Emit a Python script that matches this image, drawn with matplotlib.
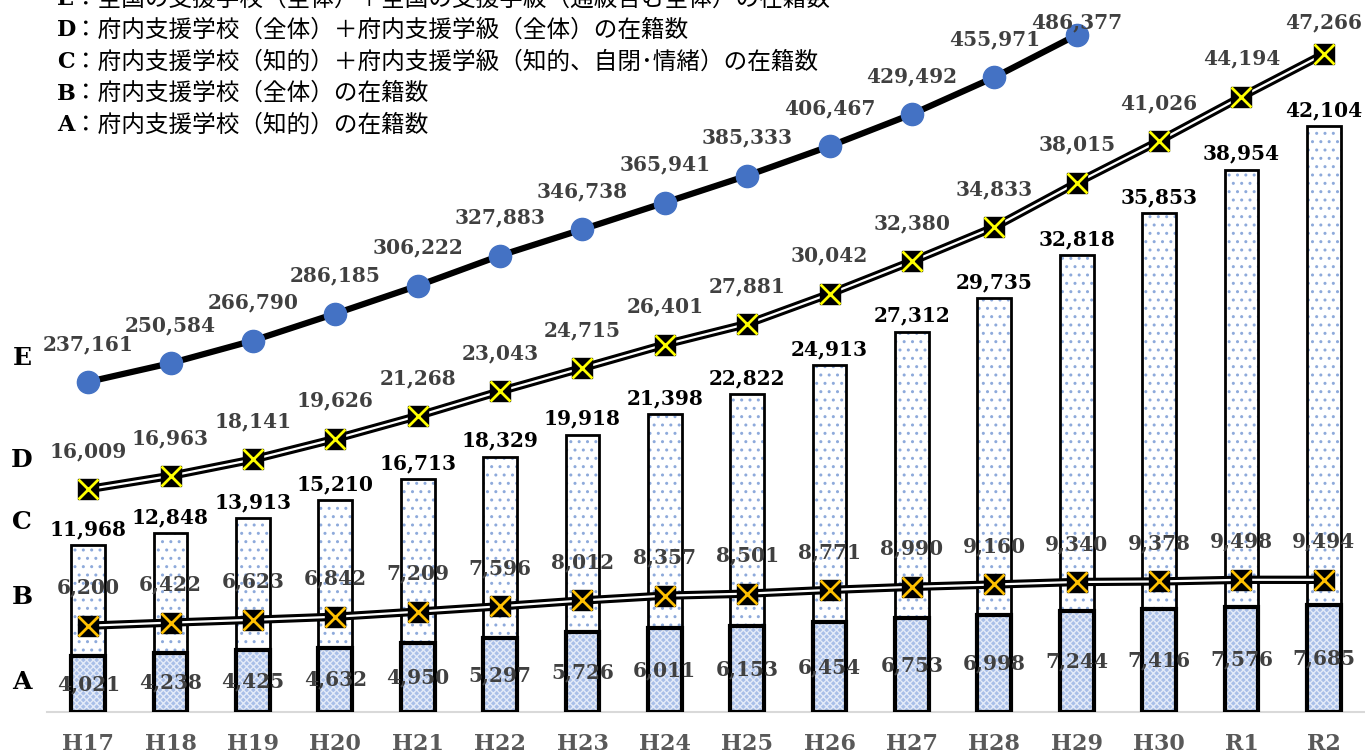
import matplotlib.pyplot as plt
import numpy as np

plt.rcParams['hatch.linewidth'] = 1.0

years = ['H17', 'H18', 'H19', 'H20', 'H21', 'H22', 'H23', 'H24',
         'H25', 'H26', 'H27', 'H28', 'H29', 'H30', 'R1', 'R2']
a_vals = [4021, 4238, 4425, 4632, 4950, 5297, 5726, 6011,
          6153, 6454, 6753, 6998, 7244, 7416, 7576, 7685]
b_vals = [6200, 6422, 6623, 6842, 7209, 7596, 8012, 8357,
          8501, 8771, 8990, 9160, 9340, 9378, 9498, 9494]
c_vals = [11968, 12848, 13913, 15210, 16713, 18329, 19918, 21398,
          22822, 24913, 27312, 29735, 32818, 35853, 38954, 42104]
d_vals = [16009, 16963, 18141, 19626, 21268, 23043, 24715, 26401,
          27881, 30042, 32380, 34833, 38015, 41026, 44194, 47266]
e_vals = [237161, 250584, 266790, 286185, 306222, 327883, 346738,
          365941, 385333, 406467, 429492, 455971, 486377]

legend_lines = [
    ('E', '：全国の支援学校（全体）＋全国の支援学級（通級含む全体）の在籍数'),
    ('D', '：府内支援学校（全体）＋府内支援学級（全体）の在籍数'),
    ('C', '：府内支援学校（知的）＋府内支援学級（知的、自閉･情緒）の在籍数'),
    ('B', '：府内支援学校（全体）の在籍数'),
    ('A', '：府内支援学校（知的）の在籍数'),
]

serif = 'DejaVu Serif'
cjk = ['Noto Sans CJK JP', 'DejaVu Sans']
gray = '#404040'

W, H = 1365, 756
fig = plt.figure(figsize=(W / 100, H / 100), dpi=100)
ax_h = 712
ax = fig.add_axes([47 / W, (H - 712) / H, 1318 / W, ax_h / H])
ymax = 51150
ax.set_xlim(-0.5, 15.5)
ax.set_ylim(0, ymax)
x = np.arange(len(years))
bw = 0.41

# C bars: white with light blue dots
ax.bar(x, c_vals, bw, facecolor='white', edgecolor='#8eaadb', hatch='..', lw=0, zorder=2)
ax.bar(x, c_vals, bw, facecolor='none', edgecolor='black', lw=2, zorder=3)
# A bars: fine blue check pattern
ax.bar(x, a_vals, bw, facecolor='#a9bfe8', edgecolor='#e4ebf8', hatch='xxxxx', lw=0, zorder=4)
ax.bar(x, a_vals, bw, facecolor='none', edgecolor='black', lw=3, zorder=5)

# B and D double lines
for vals, xcol in [(b_vals, '#ffc000'), (d_vals, '#ffff00')]:
    ax.plot(x, vals, color='black', lw=6, zorder=6, solid_capstyle='butt')
    ax.plot(x, vals, color='white', lw=1.6, zorder=7)
    ax.plot(x, vals, 's', color='black', ms=15, zorder=8)
    ax.plot(x, vals, 'x', color=xcol, ms=14, mew=2, zorder=9)

ax.spines[['top', 'right', 'left']].set_visible(False)
ax.spines['bottom'].set_color('#d9d9d9')
ax.spines['bottom'].set_linewidth(1.5)
ax.set_yticks([])
ax.set_xticks(x)
ax.set_xticklabels(years, fontfamily=serif, fontweight='bold', fontsize=16, color='#595959')
ax.tick_params(axis='x', length=0, pad=15)

ax2 = ax.twinx()
ax2.set_ylim(0, ymax * 10)
ax2.set_yticks([])
for s in ax2.spines.values():
    s.set_visible(False)
xe = x[:len(e_vals)]
ax2.plot(xe, e_vals, color='black', lw=4.5, zorder=6)
ax2.plot(xe, e_vals, 'o', color='#4472c4', ms=16, zorder=7)


def label_offset(v, top):
    # pixels above the point, kept inside the top of the chart
    from_top = (top - v) / top * ax_h
    return min(38, from_top - 22)


lab = dict(fontfamily=serif, fontweight='bold', fontsize=14.5, ha='center', va='center',
           textcoords='offset pixels', zorder=20)
for i, v in enumerate(e_vals):
    ax2.annotate(f'{v:,}', (x[i], v), xytext=(0, label_offset(v, ymax * 10)), color=gray, **lab)
for i, v in enumerate(d_vals):
    ax.annotate(f'{v:,}', (x[i], v), xytext=(0, label_offset(v, ymax)), color=gray, **lab)
for i, v in enumerate(b_vals):
    ax.annotate(f'{v:,}', (x[i], v), xytext=(0, 38), color=gray, **lab)
for i, v in enumerate(c_vals):
    ax.annotate(f'{v:,}', (x[i], v), xytext=(0, 16), color='black', **lab)
for i, v in enumerate(a_vals):
    ax.annotate(f'{v:,}', (x[i], v / 2), xytext=(0, 0), color=gray, **lab)

# series letters on the left
for letter, ypx in [('E', 358), ('D', 460), ('C', 522), ('B', 597), ('A', 682)]:
    fig.text(22 / W, 1 - ypx / H, letter, fontfamily=serif, fontweight='bold',
             fontsize=18, ha='center', va='center')

# legend text at top
for k, (letter, txt) in enumerate(legend_lines):
    yy = 1 - (-1 + 31.5 * k) / H
    fig.text(57 / W, yy, letter, fontfamily=serif, fontweight='bold', fontsize=16,
             ha='left', va='center')
    fig.text(74 / W, yy, txt, fontfamily=cjk, fontsize=17, ha='left', va='center')

fig.savefig('out.png', dpi=100)
